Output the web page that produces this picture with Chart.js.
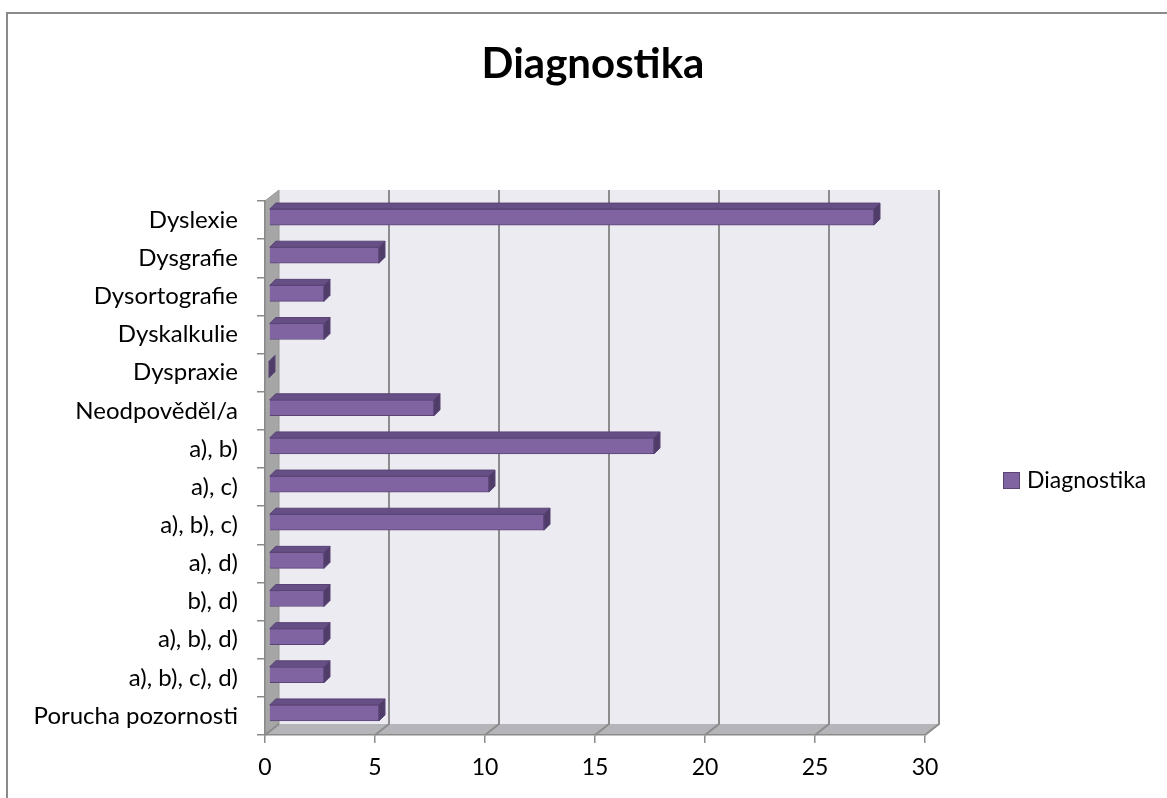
<!DOCTYPE html>
<html lang="cs">
<head>
<meta charset="utf-8">
<title>Diagnostika</title>
<script src="https://cdn.jsdelivr.net/npm/chart.js@4/dist/chart.umd.min.js"></script>
<style>
  html, body { margin: 0; padding: 0; background: #ffffff; }
  #wrap { position: relative; width: 1167px; height: 798px; }
</style>
</head>
<body>
<div id="wrap"><canvas id="chart" width="1167" height="798"></canvas></div>
<script>
// Data
const TITLE = 'Diagnostika';
const SERIES_NAME = 'Diagnostika';
const categories = [
  'Dyslexie', 'Dysgrafie', 'Dysortografie', 'Dyskalkulie', 'Dyspraxie',
  'Neodpověděl/a', 'a), b)', 'a), c)', 'a), b), c)', 'a), d)', 'b), d)',
  'a), b), d)', 'a), b), c), d)', 'Porucha pozornosti'
];
const values = [27.5, 5, 2.5, 2.5, 0, 7.5, 17.5, 10, 12.5, 2.5, 2.5, 2.5, 2.5, 5];
const xTickValues = [0, 5, 10, 15, 20, 25, 30];

// Styling
const FONT = 'Lato, "Liberation Sans", sans-serif';
const AXIS_GRAY = '#8a8a8a';
const BAR_FRONT = '#8064a2';
const BAR_TOP = '#654f84';
const BAR_SIDE = '#4f3c69';
const BAR_EDGE = '#5a4476';
const ROOM = { dx: 14, dy: -11 };     // depth of the plot "box"
const BAR_SHIFT = { dx: 4, dy: -3 };  // bars sit a little behind the front plane
const BAR_DEPTH = { dx: 6, dy: -6 };  // depth of each bar

function poly(ctx, pts, fill, stroke, lw) {
  ctx.beginPath();
  ctx.moveTo(pts[0][0], pts[0][1]);
  for (let i = 1; i < pts.length; i++) ctx.lineTo(pts[i][0], pts[i][1]);
  ctx.closePath();
  if (fill) { ctx.fillStyle = fill; ctx.fill(); }
  if (stroke) { ctx.strokeStyle = stroke; ctx.lineWidth = lw || 1; ctx.stroke(); }
}

// Walls, floor and back grid of the 3D box, plus the outer frame
const roomPlugin = {
  id: 'room',
  beforeDraw(chart) {
    const { ctx, chartArea: a, scales } = chart;
    const x = scales.x;
    const { dx, dy } = ROOM;
    ctx.save();
    // outer frame (left and top edges)
    ctx.strokeStyle = '#8a8a8a';
    ctx.lineWidth = 2;
    ctx.beginPath();
    ctx.moveTo(7, 798); ctx.lineTo(7, 13); ctx.lineTo(1167, 13);
    ctx.stroke();
    // back wall
    ctx.fillStyle = '#ecebf2';
    ctx.fillRect(a.left + dx, a.top + dy, a.right - a.left, a.bottom - a.top);
    // left wall
    poly(ctx, [[a.left, a.top], [a.left + dx, a.top + dy], [a.left + dx, a.bottom + dy], [a.left, a.bottom]],
      '#a6a6a6', '#969696', 1);
    // floor
    poly(ctx, [[a.left, a.bottom], [a.right, a.bottom], [a.right + dx, a.bottom + dy], [a.left + dx, a.bottom + dy]],
      '#b5b4b9', null);
    // grid lines on back wall and floor
    ctx.strokeStyle = '#8c8c8c';
    ctx.lineWidth = 2;
    x.ticks.forEach(t => {
      const px = x.getPixelForValue(t.value);
      ctx.beginPath();
      ctx.moveTo(px, a.bottom);
      ctx.lineTo(px + dx, a.bottom + dy);
      if (t.value !== 0) ctx.lineTo(px + dx, a.top + dy);
      ctx.stroke();
    });
    ctx.restore();
  },
  beforeDatasetsDraw(chart) {
    chart.ctx.save();
    chart.ctx.translate(BAR_SHIFT.dx, BAR_SHIFT.dy);
  },
  afterDatasetsDraw(chart) {
    const ctx = chart.ctx;
    const { dx, dy } = BAR_DEPTH;
    chart.getSortedVisibleDatasetMetas().forEach(meta => {
      meta.data.forEach(el => {
        const p = el.getProps(['x', 'y', 'base', 'height'], true);
        const L = Math.min(p.base, p.x), R = Math.max(p.base, p.x);
        const T = p.y - p.height / 2, B = p.y + p.height / 2;
        // top face
        poly(ctx, [[L, T], [R, T], [R + dx, T + dy], [L + dx, T + dy]], BAR_TOP, BAR_EDGE, 1);
        // end face
        poly(ctx, [[R, T], [R + dx, T + dy], [R + dx, B + dy], [R, B]], BAR_SIDE, BAR_EDGE, 1);
      });
    });
    ctx.restore();
  },
  afterDraw(chart) {
    const ctx = chart.ctx;
    ctx.save();
    // title
    ctx.fillStyle = '#000000';
    ctx.font = 'bold 42px ' + FONT;
    ctx.textAlign = 'center';
    ctx.textBaseline = 'alphabetic';
    ctx.fillText(TITLE, 593, 78);
    // legend
    const ds = chart.data.datasets[0];
    ctx.fillStyle = ds.backgroundColor;
    ctx.fillRect(1003.5, 472.5, 16, 16);
    ctx.strokeStyle = BAR_EDGE;
    ctx.lineWidth = 1;
    ctx.strokeRect(1003.5, 472.5, 16, 16);
    ctx.fillStyle = '#000000';
    ctx.font = '23px ' + FONT;
    ctx.textAlign = 'left';
    ctx.fillText(ds.label, 1027, 488);
    ctx.restore();
  }
};

new Chart(document.getElementById('chart'), {
  type: 'bar',
  data: {
    labels: categories,
    datasets: [{
      label: SERIES_NAME,
      data: values,
      backgroundColor: BAR_FRONT,
      borderColor: BAR_EDGE,
      borderWidth: 1,
      barThickness: 16,
      clip: false
    }]
  },
  options: {
    indexAxis: 'y',
    responsive: false,
    animation: false,
    devicePixelRatio: 1,
    layout: { padding: { left: 0, top: 201, right: 242, bottom: 0 } },
    plugins: {
      legend: { display: false },
      title: { display: false },
      tooltip: { enabled: false }
    },
    scales: {
      x: {
        type: 'linear',
        min: 0,
        max: 30,
        afterBuildTicks(scale) { scale.ticks = xTickValues.map(v => ({ value: v })); },
        afterFit(scale) { scale.height = 63; },
        grid: { drawOnChartArea: false, drawTicks: true, tickLength: 8, color: AXIS_GRAY, lineWidth: 1.5 },
        border: { display: true, color: AXIS_GRAY, width: 1.5 },
        ticks: { color: '#000000', font: { family: FONT, size: 23 }, padding: 11, maxRotation: 0 }
      },
      y: {
        type: 'category',
        afterFit(scale) { scale.width = 265; },
        grid: { drawOnChartArea: false, drawTicks: true, tickLength: 8, offset: true, color: AXIS_GRAY, lineWidth: 1.5 },
        border: { display: true, color: AXIS_GRAY, width: 1.5 },
        ticks: { color: '#000000', font: { family: FONT, size: 24 }, padding: 19, autoSkip: false }
      }
    }
  },
  plugins: [roomPlugin]
});
</script>
</body>
</html>
